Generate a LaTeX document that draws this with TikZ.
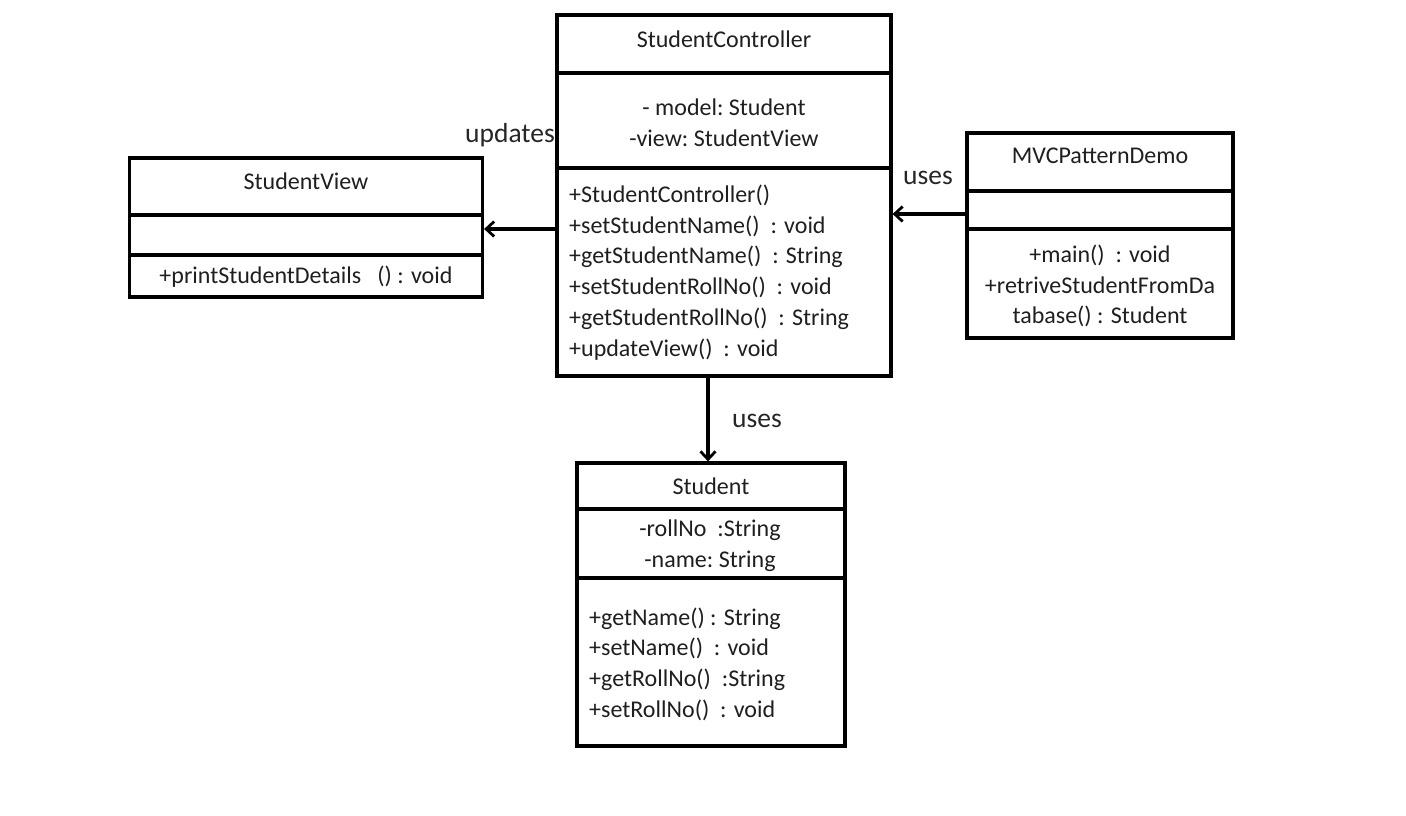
\documentclass[tikz,border=0pt]{standalone}
\usepackage{fontspec}
\setmainfont{Carlito}
\usetikzlibrary{arrows.meta}
\begin{document}
\begin{tikzpicture}[x=1pt,y=-1pt,
  classbox/.style={draw=black,line width=3.2pt,inner sep=0pt,fill=white},
  divider/.style={draw=black,line width=3.2pt},
  txt/.style={inner sep=0pt,text=black!88,font=\fontsize{24}{30.7}\selectfont},
  lbl/.style={inner sep=0pt,text=black!85,font=\fontsize{27.5}{30}\selectfont},
  conn/.style={draw=black,line width=3.2pt,-{Straight Barb[length=8pt,width=15pt,line width=2.8pt]}}]
\useasboundingbox (0,0) rectangle (1406,816);

% StudentController
\node[classbox,minimum width=334pt,minimum height=361pt] (ctrl) at (724,195.5) {};
\draw[divider] (ctrl.west |- 0,73) -- (ctrl.east |- 0,73);
\draw[divider] (ctrl.west |- 0,168) -- (ctrl.east |- 0,168);
\node[txt] (ctrltitle) at (724,39) {StudentController};
\node[txt,align=center] (ctrlattr) at (724,122.5) {- model:\ Student\\-view:\ StudentView};
\node[txt,align=left,anchor=west] (ctrlops) at (569,272.5) {+StudentController()\\+setStudentName()\ \ : void\\+getStudentName()\ \ : String\\+setStudentRollNo()\ \ : void\\+getStudentRollNo()\ \ : String\\+updateView()\ \ : void};

% StudentView
\node[classbox,minimum width=353pt,minimum height=139pt] (view) at (306,227.5) {};
\draw[divider] (view.west |- 0,215) -- (view.east |- 0,215);
\draw[divider] (view.west |- 0,255) -- (view.east |- 0,255);
\node[txt] (viewtitle) at (306,181) {StudentView};
\node[txt] (viewops) at (306,277) {+printStudentDetails\ \ \ () : void};

% MVCPatternDemo
\node[classbox,minimum width=266pt,minimum height=205pt] (demo) at (1100,235.5) {};
\draw[divider] (demo.west |- 0,191) -- (demo.east |- 0,191);
\draw[divider] (demo.west |- 0,229) -- (demo.east |- 0,229);
\node[txt] (demotitle) at (1100,156) {MVCPatternDemo};
\node[txt,align=center] (demoops) at (1100,286) {+main()\ \ : void\\+retriveStudentFromDa\\tabase() : Student};

% Student
\node[classbox,minimum width=268pt,minimum height=283pt] (student) at (711,604.5) {};
\draw[divider] (student.west |- 0,509) -- (student.east |- 0,509);
\draw[divider] (student.west |- 0,578) -- (student.east |- 0,578);
\node[txt] (studenttitle) at (711,486) {Student};
\node[txt,align=center] (studentattr) at (710,545.5) {-rollNo\ \ :String\\-name:\ String};
\node[txt,align=left,anchor=west] (studentops) at (589,664) {+getName()\ : String\\+setName()\ \ : void\\+getRollNo()\ \ :String\\+setRollNo()\ \ : void};

% Associations
\draw[conn] (ctrl.west |- 0,229) -- (view.east |- 0,229);
\draw[conn] (demo.west |- 0,214) -- (ctrl.east |- 0,214);
\draw[conn] (ctrl.south -| 708,0) -- (student.north -| 708,0);

% Association labels
\node[lbl,anchor=east] (lblupdates) at (555,135) {updates};
\node[lbl] (lbluses1) at (928,178) {uses};
\node[lbl] (lbluses2) at (757,421) {uses};
\end{tikzpicture}
\end{document}
